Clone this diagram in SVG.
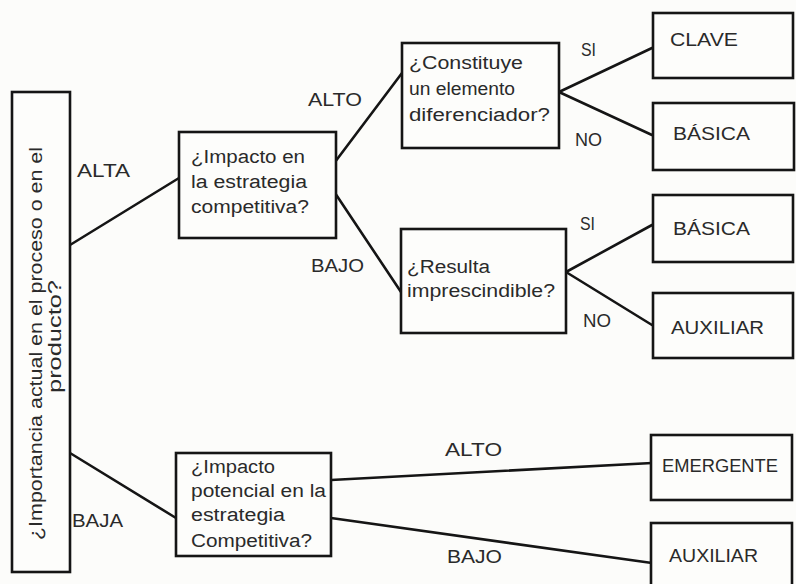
<svg xmlns="http://www.w3.org/2000/svg" width="796" height="584" viewBox="0 0 796 584">
<style>
.bg{fill:#fcfcfa}
.box{fill:#fdfdfb;stroke:#151515;stroke-width:2.6}
.ln{stroke:#151515;stroke-width:2.6;fill:none;stroke-linecap:round}
text{font-family:"Liberation Sans",Arial,sans-serif;font-size:18px;fill:#2a2a2a}
.rot{font-size:19px}
</style>
<rect class="bg" x="0" y="0" width="796" height="584"/>
<g id="connectors">
<line class="ln" x1="70" y1="245" x2="179" y2="178"/>
<line class="ln" x1="70" y1="453" x2="176" y2="518"/>
<line class="ln" x1="335" y1="162" x2="402" y2="73"/>
<line class="ln" x1="335" y1="193" x2="401" y2="292"/>
<line class="ln" x1="559" y1="92" x2="652" y2="48"/>
<line class="ln" x1="559" y1="92" x2="652" y2="135"/>
<line class="ln" x1="566" y1="272" x2="652" y2="225"/>
<line class="ln" x1="566" y1="272" x2="652" y2="325"/>
<line class="ln" x1="331" y1="480" x2="652" y2="463"/>
<line class="ln" x1="331" y1="518" x2="652" y2="563"/>
<text x="77" y="177" textLength="53" lengthAdjust="spacingAndGlyphs">ALTA</text>
<text x="72" y="527" textLength="51" lengthAdjust="spacingAndGlyphs">BAJA</text>
<text x="308" y="106" textLength="54" lengthAdjust="spacingAndGlyphs">ALTO</text>
<text x="311" y="272" textLength="53" lengthAdjust="spacingAndGlyphs">BAJO</text>
<text x="581" y="56" textLength="15" lengthAdjust="spacingAndGlyphs">SI</text>
<text x="575" y="146" textLength="27" lengthAdjust="spacingAndGlyphs">NO</text>
<text x="580" y="230" textLength="15" lengthAdjust="spacingAndGlyphs">SI</text>
<text x="583" y="327" textLength="28" lengthAdjust="spacingAndGlyphs">NO</text>
<text x="445" y="456" textLength="57" lengthAdjust="spacingAndGlyphs">ALTO</text>
<text x="447" y="563" textLength="55" lengthAdjust="spacingAndGlyphs">BAJO</text>
</g>
<g id="n-importancia">
<rect class="box" x="12" y="92" width="58" height="480"/>
<g transform="rotate(-90)">
<text class="rot" x="-540" y="42" textLength="393" lengthAdjust="spacingAndGlyphs">¿Importancia actual en el proceso o en el</text>
<text class="rot" x="-393" y="61" textLength="113" lengthAdjust="spacingAndGlyphs">producto?</text>
</g>
</g>
<g id="n-impacto">
<rect class="box" x="179" y="132" width="157" height="106"/>
<text x="191" y="163" textLength="114" lengthAdjust="spacingAndGlyphs">¿Impacto en</text>
<text x="191" y="188" textLength="116" lengthAdjust="spacingAndGlyphs">la estrategia</text>
<text x="191" y="213" textLength="118" lengthAdjust="spacingAndGlyphs">competitiva?</text>
</g>
<g id="n-constituye">
<rect class="box" x="402" y="43" width="157" height="105"/>
<text x="409" y="69" textLength="114" lengthAdjust="spacingAndGlyphs">¿Constituye</text>
<text x="409" y="95" textLength="106" lengthAdjust="spacingAndGlyphs">un elemento</text>
<text x="409" y="121" textLength="141" lengthAdjust="spacingAndGlyphs">diferenciador?</text>
</g>
<g id="n-resulta">
<rect class="box" x="401" y="229" width="165" height="104"/>
<text x="407" y="273" textLength="83" lengthAdjust="spacingAndGlyphs">¿Resulta</text>
<text x="407" y="297" textLength="148" lengthAdjust="spacingAndGlyphs">imprescindible?</text>
</g>
<g id="n-potencial">
<rect class="box" x="176" y="453" width="155" height="103"/>
<text x="191" y="473" textLength="84" lengthAdjust="spacingAndGlyphs">¿Impacto</text>
<text x="191" y="497" textLength="135" lengthAdjust="spacingAndGlyphs">potencial en la</text>
<text x="191" y="521" textLength="94" lengthAdjust="spacingAndGlyphs">estrategia</text>
<text x="191" y="547" textLength="121" lengthAdjust="spacingAndGlyphs">Competitiva?</text>
</g>
<g id="n-clave">
<rect class="box" x="653" y="13" width="140" height="65"/>
<text x="670" y="46" textLength="68" lengthAdjust="spacingAndGlyphs">CLAVE</text>
</g>
<g id="n-basica1">
<rect class="box" x="653" y="103" width="141" height="67"/>
<text x="673" y="140" textLength="77" lengthAdjust="spacingAndGlyphs">BÁSICA</text>
</g>
<g id="n-basica2">
<rect class="box" x="653" y="195" width="140" height="67"/>
<text x="673" y="235" textLength="77" lengthAdjust="spacingAndGlyphs">BÁSICA</text>
</g>
<g id="n-auxiliar1">
<rect class="box" x="653" y="293" width="140" height="65"/>
<text x="671" y="334" textLength="93" lengthAdjust="spacingAndGlyphs">AUXILIAR</text>
</g>
<g id="n-emergente">
<rect class="box" x="651" y="435" width="141" height="65"/>
<text x="662" y="472" textLength="116" lengthAdjust="spacingAndGlyphs">EMERGENTE</text>
</g>
<g id="n-auxiliar2">
<rect class="box" x="651" y="523" width="141" height="70"/>
<text x="669" y="562" textLength="89" lengthAdjust="spacingAndGlyphs">AUXILIAR</text>
</g>
</svg>
